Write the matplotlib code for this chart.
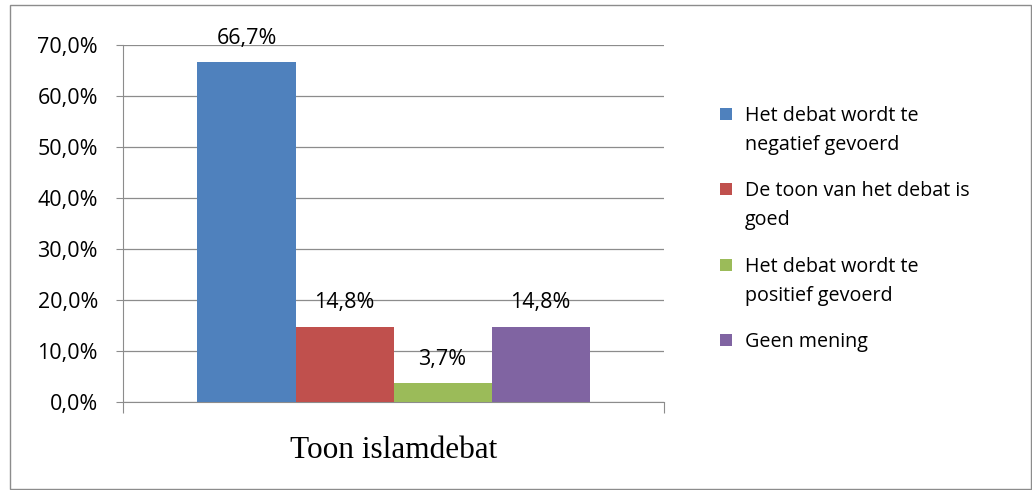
import matplotlib
matplotlib.use("Agg")
import matplotlib.pyplot as plt
from matplotlib.patches import Rectangle

categories = ["Het debat wordt te\nnegatief gevoerd",
              "De toon van het debat is\ngoed",
              "Het debat wordt te\npositief gevoerd",
              "Geen mening"]
values = [66.7, 14.8, 3.7, 14.8]
labels = ["66,7%", "14,8%", "3,7%", "14,8%"]
colors = ["#4F81BD", "#C0504D", "#9BBB59", "#8064A2"]
yticks = [0, 10, 20, 30, 40, 50, 60, 70]
ytick_labels = ["0,0%", "10,0%", "20,0%", "30,0%", "40,0%", "50,0%", "60,0%", "70,0%"]
xlabel = "Toon islamdebat"

plt.rcParams['font.family'] = ['Open Sans', 'DejaVu Sans']

W, H = 1032, 490
fig = plt.figure(figsize=(W/100, H/100), dpi=100)
fig.patches.append(Rectangle((10/W, 1/H), (W-11)/W, (H-6)/H, transform=fig.transFigure,
                             fill=False, edgecolor="#8c8c8c", linewidth=1.0))

ax = fig.add_axes([123/W, 1-402/H, (664-123)/W, (402-45)/H])
xs = [-1.5, -0.5, 0.5, 1.5]
for x, v, c, lab in zip(xs, values, colors, labels):
    ax.bar(x, v, width=1.0, color=c, zorder=3)
    ax.annotate(lab, (x, v), xytext=(0, 17), textcoords="offset points",
                ha="center", va="center", fontsize=15.5, color="black")

half = 270.5/98
ax.set_xlim(-half, half)
ax.set_ylim(0, 70)
ax.set_yticks(yticks)
ax.set_yticklabels(ytick_labels, fontsize=15.5)
ax.yaxis.grid(True, color="#8c8c8c", linewidth=0.9, zorder=0)
ax.set_xticks([-half, half])
ax.set_xticklabels(["", ""])
ax.tick_params(axis="x", direction="out", length=8, color="#8c8c8c")
ax.tick_params(axis="y", direction="out", length=5, color="#8c8c8c", pad=13)
for s in ["top", "right"]:
    ax.spines[s].set_visible(False)
for s in ["left", "bottom"]:
    ax.spines[s].set_color("#8c8c8c")
ax.set_xlabel(xlabel, family="Liberation Serif", fontsize=22.5, labelpad=13)

# legend (manual layout: square aligned with first line of each entry)
entry_base = [121, 196, 272, 347]
line_pitch = 29
for cat, c, yb in zip(categories, colors, entry_base):
    fig.patches.append(Rectangle((720/W, 1-(yb-1)/H), 12/W, 12/H,
                                 transform=fig.transFigure, facecolor=c,
                                 edgecolor="none"))
    for i, line in enumerate(cat.split("\n")):
        fig.text(745/W, 1-(yb + i*line_pitch)/H, line, fontsize=14.2,
                 ha="left", va="baseline", color="black")

fig.savefig("out.png", dpi=100)
